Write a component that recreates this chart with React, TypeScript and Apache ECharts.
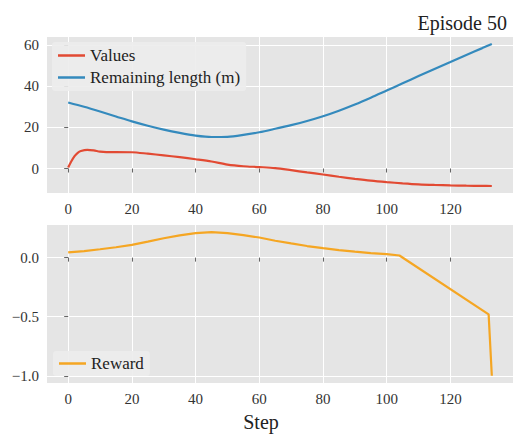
import React, { useEffect, useRef } from "react";
import * as echarts from "echarts";

const FONT = "Liberation Serif";

// Top panel
const topSteps = [0, 1, 2, 3, 4, 6, 8, 10, 12, 15, 20, 25, 30, 35, 40, 45, 50, 55, 60, 65, 70, 75, 80, 85, 90, 95, 100, 105, 110, 115, 120, 125, 130, 133];
const values = [0.5, 3.5, 6.0, 7.6, 8.5, 9.1, 8.8, 8.2, 8.0, 8.0, 7.9, 7.2, 6.4, 5.5, 4.5, 3.4, 1.9, 1.1, 0.7, 0.2, -0.8, -1.9, -2.9, -4.0, -5.0, -5.9, -6.6, -7.2, -7.7, -8.0, -8.2, -8.35, -8.45, -8.5];

const remSteps = [0, 5, 10, 15, 20, 25, 30, 35, 40, 45, 50, 55, 60, 65, 70, 75, 80, 85, 90, 95, 100, 105, 110, 115, 120, 125, 130, 133];
const remaining = [32.1, 30.0, 27.7, 25.3, 22.9, 20.8, 18.9, 17.3, 16.0, 15.3, 15.4, 16.3, 17.6, 19.3, 21.1, 23.1, 25.4, 28.1, 31.1, 34.4, 37.9, 41.4, 44.9, 48.4, 51.8, 55.2, 58.5, 60.5];

// Bottom panel
const rewardSteps = [0, 5, 10, 15, 20, 25, 30, 35, 40, 45, 50, 55, 60, 65, 70, 75, 80, 85, 90, 95, 100, 104, 132, 133];
const reward = [0.045, 0.055, 0.071, 0.088, 0.108, 0.135, 0.164, 0.188, 0.207, 0.215, 0.208, 0.19, 0.17, 0.143, 0.12, 0.098, 0.08, 0.064, 0.05, 0.038, 0.029, 0.018, -0.48, -1.0];

const xTicks = [0, 20, 40, 60, 80, 100, 120];
const topYTicks = [0, 20, 40, 60];
const bottomYTicks = [-1.0, -0.5, 0.0];

const pairs = (xs: number[], ys: number[]) => xs.map((x, i) => [x, ys[i]]);

export default function App() {
  const ref = useRef<HTMLDivElement>(null);
  useEffect(() => {
    if (!ref.current) return;
    const chart = echarts.init(ref.current, undefined, { renderer: "svg" });
    const tickLabel = { fontSize: 15, color: "#333", fontFamily: FONT };
    const xAxisBase = (i: number) => ({
      type: "value",
      gridIndex: i,
      min: -6.65,
      max: 139.65,
      axisLine: { show: false },
      axisTick: { show: true, length: 4, lineStyle: { color: "#666" }, customValues: xTicks },
      axisLabel: { ...tickLabel, margin: 8, customValues: xTicks },
      splitLine: { show: true, lineStyle: { color: "#ffffff", width: 1 } },
    });
    chart.setOption({
      animation: false,
      backgroundColor: "#ffffff",
      textStyle: { fontFamily: FONT },
      title: {
        text: "Episode 50",
        right: 6,
        top: 8,
        textStyle: { fontFamily: FONT, fontSize: 20, fontWeight: "normal", color: "#222" },
      },
      grid: [
        { left: 47, top: 37, width: 466, height: 156, show: true, backgroundColor: "#E5E5E5", borderWidth: 0 },
        { left: 47, top: 225, width: 466, height: 158, show: true, backgroundColor: "#E5E5E5", borderWidth: 0 },
      ],
      xAxis: [xAxisBase(0), xAxisBase(1)],
      yAxis: [
        {
          type: "value",
          gridIndex: 0,
          min: -11.9,
          max: 63.9,
          axisLine: { show: false },
          axisTick: { show: true, length: 4, lineStyle: { color: "#666" }, customValues: topYTicks },
          axisLabel: { ...tickLabel, margin: 8, customValues: topYTicks },
          splitLine: { show: true, lineStyle: { color: "#ffffff", width: 1 } },
        },
        {
          type: "value",
          gridIndex: 1,
          min: -1.061,
          max: 0.276,
          axisLine: { show: false },
          axisTick: { show: true, length: 4, lineStyle: { color: "#666" }, customValues: bottomYTicks },
          axisLabel: {
            ...tickLabel,
            margin: 8,
            customValues: bottomYTicks,
            formatter: (v: number) => (v < 0 ? "\u2212" + Math.abs(v).toFixed(1) : v.toFixed(1)),
          },
          splitLine: { show: true, lineStyle: { color: "#ffffff", width: 1 } },
        },
      ],
      legend: [
        {
          data: ["Values", "Remaining length (m)"],
          left: 52,
          top: 42,
          orient: "vertical",
          icon: "rect",
          itemWidth: 27,
          itemHeight: 2.5,
          itemGap: 5,
          padding: [5, 6, 5, 6],
          backgroundColor: "rgba(236,236,236,0.9)",
          borderRadius: 3,
          textStyle: { fontFamily: FONT, fontSize: 17, color: "#222", lineHeight: 17 },
        },
        {
          data: ["Reward"],
          left: 53,
          top: 351,
          orient: "vertical",
          icon: "rect",
          itemWidth: 27,
          itemHeight: 2.5,
          padding: [4, 6, 4, 6],
          backgroundColor: "rgba(236,236,236,0.9)",
          borderRadius: 3,
          textStyle: { fontFamily: FONT, fontSize: 17, color: "#222", lineHeight: 17 },
        },
      ],
      graphic: [
        {
          type: "text",
          x: 261,
          y: 422,
          style: { text: "Step", fontSize: 20, fontFamily: FONT, fill: "#222", align: "center", verticalAlign: "middle" },
        },
      ],
      series: [
        {
          name: "Values",
          type: "line",
          xAxisIndex: 0,
          yAxisIndex: 0,
          data: pairs(topSteps, values),
          symbol: "none",
          smooth: 0.3,
          lineStyle: { color: "#E24A33", width: 2.2 },
          itemStyle: { color: "#E24A33" },
        },
        {
          name: "Remaining length (m)",
          type: "line",
          xAxisIndex: 0,
          yAxisIndex: 0,
          data: pairs(remSteps, remaining),
          symbol: "none",
          smooth: 0.3,
          lineStyle: { color: "#348ABD", width: 2.2 },
          itemStyle: { color: "#348ABD" },
        },
        {
          name: "Reward",
          type: "line",
          xAxisIndex: 1,
          yAxisIndex: 1,
          data: pairs(rewardSteps, reward),
          symbol: "none",
          smooth: false,
          lineStyle: { color: "#F5A623", width: 2.2 },
          itemStyle: { color: "#F5A623" },
        },
      ],
    });
    return () => chart.dispose();
  }, []);
  return <div ref={ref} style={{ position: "absolute", left: 0, top: 0, width: 518, height: 434 }} />;
}
